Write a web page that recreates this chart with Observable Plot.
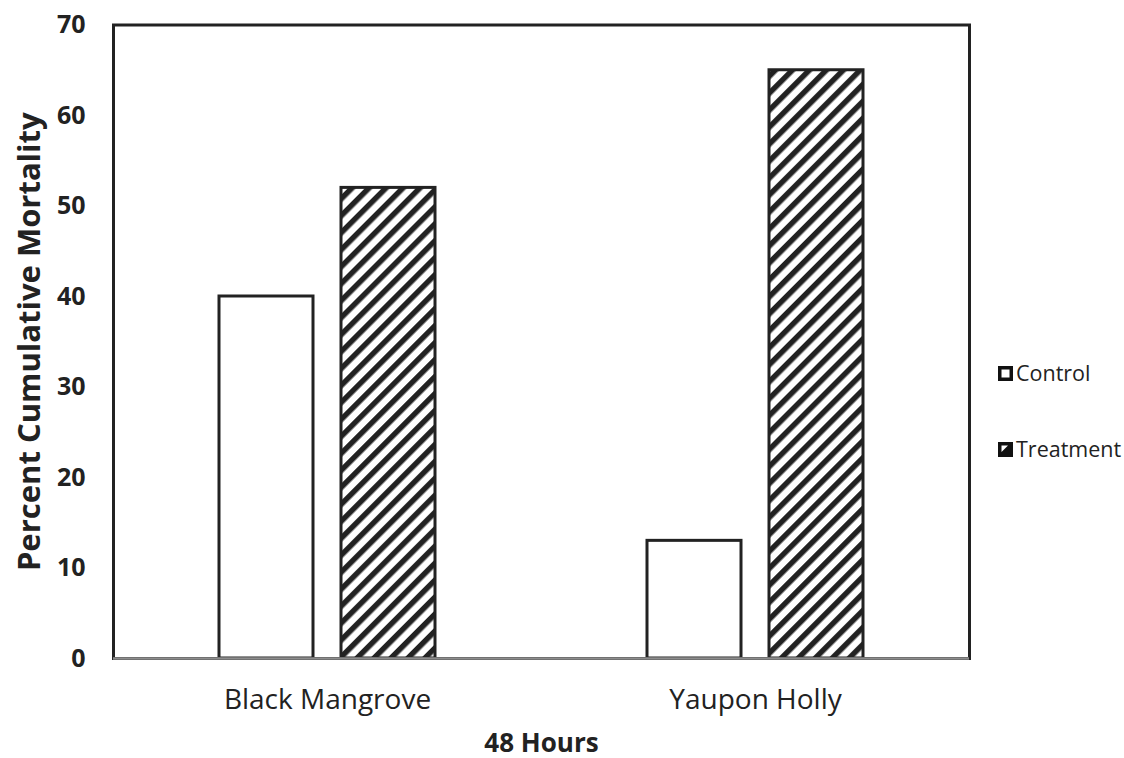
<!DOCTYPE html>
<html>
<head>
<meta charset="utf-8">
<script src="https://cdn.jsdelivr.net/npm/d3@7"></script>
<script src="https://cdn.jsdelivr.net/npm/@observablehq/plot@0.6"></script>
<style>
  body { margin: 0; background: #fff; }
  #wrap { position: relative; width: 1124px; height: 758px; }
  .legend-item { position: absolute; left: 998px; display: flex; align-items: center;
    font-family: "Open Sans", sans-serif; font-size: 21.5px; line-height: 22px; color: #222; }
  .legend-item svg { margin-right: 3px; }
</style>
</head>
<body>
<svg width="0" height="0" style="position:absolute">
  <defs>
    <pattern id="hatch" patternUnits="userSpaceOnUse" width="12" height="12" patternTransform="rotate(45)">
      <rect x="0" y="0" width="12" height="12" fill="#fff"></rect>
      <rect x="0" y="0" width="5.5" height="12" fill="#222"></rect>
    </pattern>
  </defs>
</svg>
<div id="wrap"></div>
<script>
const species = ["Black Mangrove", "Yaupon Holly"];
const seriesNames = ["Control", "Treatment"];
const controlValues = [40, 13];
const treatmentValues = [52, 65];
const yTicks = [0, 10, 20, 30, 40, 50, 60, 70];

const rows = species.flatMap((s, i) => [
  {species: s, series: seriesNames[0], value: controlValues[i]},
  {species: s, series: seriesNames[1], value: treatmentValues[i]}
]);

const chart = Plot.plot({
  width: 1124,
  height: 758,
  marginLeft: 113,
  marginRight: 155,
  marginTop: 24.5,
  marginBottom: 100,
  x: {domain: species, padding: 0},
  y: {domain: [0, 70]},
  marks: [
    Plot.frame({stroke: "#222", strokeWidth: 3}),
    Plot.barY(rows.filter(d => d.series === "Control"), {
      x: "species", y: "value", fill: "#fff", stroke: "#222", strokeWidth: 3,
      insetLeft: 167, insetRight: 167, dx: -61
    }),
    Plot.barY(rows.filter(d => d.series === "Treatment"), {
      x: "species", y: "value", fill: "url(#hatch)", stroke: "#222", strokeWidth: 3,
      insetLeft: 167, insetRight: 167, dx: 61
    }),
    Plot.ruleY([0], {stroke: "#8c8c8c", strokeWidth: 2.5}),
    Plot.axisY({ticks: yTicks, tickSize: 0, tickPadding: 28, label: "Percent Cumulative Mortality",
      labelAnchor: "center", labelOffset: 96, labelArrow: "none"}),
    Plot.axisX({tickSize: 0, tickPadding: 31, label: "48 Hours", labelAnchor: "center",
      labelOffset: 93, labelArrow: "none"})
  ]
});

const sel = d3.select(chart);
sel.style("font-family", "'Open Sans', sans-serif").style("color", "#222");
sel.selectAll('g[aria-label="y-axis tick label"]').style("font-size", "25px").style("font-weight", "bold").style("fill", "#222");
sel.selectAll('g[aria-label="y-axis label"]').style("font-size", "31px").style("font-weight", "bold").style("fill", "#222");
sel.selectAll('g[aria-label="x-axis tick label"]').style("font-size", "28px").style("font-weight", "normal").style("fill", "#222");
sel.selectAll('g[aria-label="x-axis label"]').style("font-size", "26px").style("font-weight", "bold").style("fill", "#222");

const wrap = document.getElementById("wrap");
wrap.appendChild(chart);

const legendTops = [362, 438];
const swatches = [
  '<svg width="15" height="15"><rect x="1.75" y="1.75" width="11.5" height="11.5" fill="#fff" stroke="#111" stroke-width="3.5"></rect></svg>',
  '<svg width="15" height="15"><rect x="0" y="0" width="15" height="15" fill="#111"></rect><polygon points="3.5,3.5 10,3.5 3.5,10" fill="#fff"></polygon></svg>'
];
seriesNames.forEach((name, i) => {
  const item = document.createElement("div");
  item.className = "legend-item";
  item.style.top = legendTops[i] + "px";
  item.innerHTML = swatches[i] + "<span>" + name + "</span>";
  wrap.appendChild(item);
});
</script>
</body>
</html>
